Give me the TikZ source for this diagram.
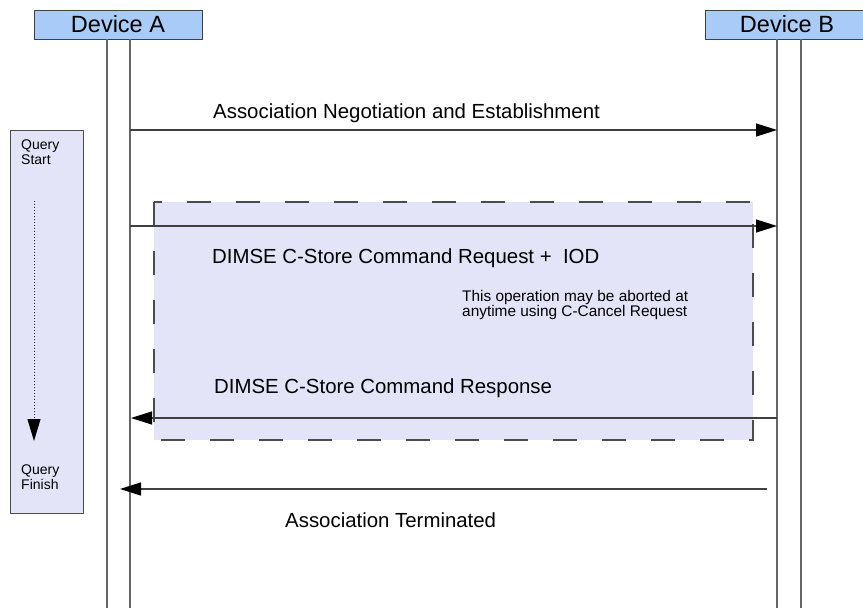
\documentclass[tikz,border=0pt]{standalone}
\usepackage{fontspec}
\setmainfont{Liberation Sans}
\usetikzlibrary{arrows.meta}

\begin{document}
\begin{tikzpicture}[x=1pt,y=-1pt,
  header/.style={draw=black!75, line width=0.9pt, fill=headblue, inner sep=0pt,
    minimum height=29pt, font=\fontsize{23.5}{27}\selectfont},
  lifeline/.style={draw=black!60, line width=1.3pt},
  msg/.style={draw=black!75, line width=1.2pt,
    -{Triangle[length=21pt,width=13pt,color=black]}},
  msglabel/.style={inner sep=0pt, font=\fontsize{20.4}{24}\selectfont},
  smalltext/.style={inner sep=0pt, align=left, font=\fontsize{14}{15}\selectfont},
  notetext/.style={inner sep=0pt, align=left, font=\fontsize{15.4}{15.5}\selectfont},
  phasebox/.style={draw=black!70, line width=0.9pt, fill=lav},
  groupbox/.style={draw=black!70, line width=1.4pt, fill=lav, dash pattern=on 24pt off 25pt}
]
\definecolor{headblue}{RGB}{168,204,247}
\definecolor{lav}{RGB}{228,228,248}
\useasboundingbox[fill=white] (0,0) rectangle (863,608);

% participants
\node[header, minimum width=168pt] (devA) at (118,24.5) {Device A};
\node[header, minimum width=164pt] (devB) at (787,24.5) {Device B};

% lifeline anchors (two rails per device)
\coordinate (a1top) at (107,39);  \coordinate (a1bot) at (107,612);
\coordinate (a2top) at (130,39);  \coordinate (a2bot) at (130,612);
\coordinate (b1top) at (777,39);  \coordinate (b1bot) at (777,612);
\coordinate (b2top) at (801,39);  \coordinate (b2bot) at (801,612);

% query phase indicator
\node[phasebox, minimum width=73pt, minimum height=383pt, anchor=north west] (qbox) at (10,130) {};
\node[smalltext, anchor=north west] (qstart) at (21,140) {Query\\Start};
\node[smalltext, anchor=north west] (qfinish) at (21,465) {Query\\Finish};
\coordinate (qfrom) at (34,201);
\coordinate (qto) at (34,441);
\draw[black!85, line width=1pt, dotted, -{Triangle[length=22pt,width=13pt,color=black]}] (qfrom) -- (qto);

% abortable operation group
\coordinate (grpNW) at (154,202);
\coordinate (grpSE) at (753,440);
\path[groupbox] (grpNW) rectangle (grpSE);

% lifelines
\draw[lifeline] (a1top) -- (a1bot);
\draw[lifeline] (a2top) -- (a2bot);
\draw[lifeline] (b1top) -- (b1bot);
\draw[lifeline] (b2top) -- (b2bot);

% messages
\coordinate (m1s) at (130,130); \coordinate (m1e) at (777,130);
\coordinate (m2s) at (130,226); \coordinate (m2e) at (777,226);
\coordinate (m3s) at (777,418); \coordinate (m3e) at (131,418);
\coordinate (m4s) at (767,489); \coordinate (m4e) at (120,489);

\draw[msg] (m1s) -- (m1e);
\draw[msg] (m2s) -- (m2e);
\draw[msg] (m3s) -- (m3e);
\draw[msg] (m4s) -- (m4e);

% labels
\node[msglabel, anchor=base west] (l1) at (213,118) {Association Negotiation and Establishment};
\node[msglabel, anchor=base west] (l2) at (212,263) {DIMSE C-Store Command Request +\ \ IOD};
\node[notetext, anchor=north west] (note) at (462,290) {This operation may be aborted at\\anytime using C-Cancel Request};
\node[msglabel, anchor=base west] (l3) at (214,393) {DIMSE C-Store Command Response};
\node[msglabel, anchor=base west] (l4) at (285,527) {Association Terminated};
\end{tikzpicture}
\end{document}
